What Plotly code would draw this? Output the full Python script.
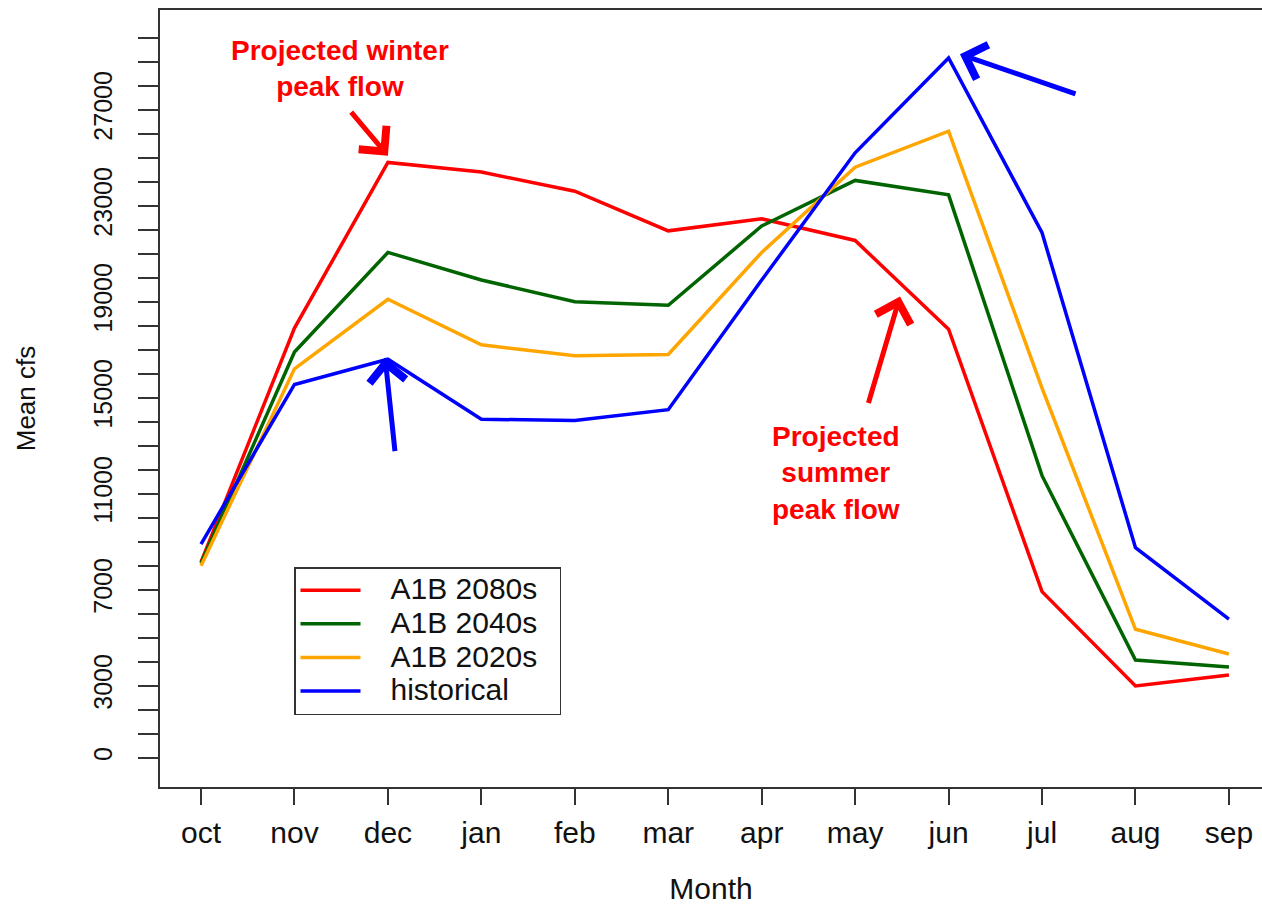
import plotly.graph_objects as go

months = ["oct", "nov", "dec", "jan", "feb", "mar", "apr", "may", "jun", "jul", "aug", "sep"]
month_idx = list(range(1, 13))

a1b_2080s = [8150, 17900, 24800, 24400, 23600, 21950, 22450, 21550, 17850, 6920, 2990, 3450]
a1b_2040s = [8100, 16900, 21050, 19900, 19000, 18850, 22150, 24050, 23450, 11750, 4070, 3780]
a1b_2020s = [8000, 16200, 19100, 17200, 16750, 16800, 21050, 24600, 26100, 15400, 5350, 4320]
historical = [8900, 15550, 16600, 14100, 14050, 14500, 19900, 25200, 29150, 21870, 8750, 5770]

series_names = ["A1B 2080s", "A1B 2040s", "A1B 2020s", "historical"]
series_values = [a1b_2080s, a1b_2040s, a1b_2020s, historical]
series_colors = ["#FF0000", "#006400", "#FFA500", "#0000FF"]

y_tick_vals = list(range(0, 30001, 1000))
y_labelled = [0, 3000, 7000, 11000, 15000, 19000, 23000, 27000]
y_tick_text = [str(v) if v in y_labelled else "" for v in y_tick_vals]

FONT = "Liberation Sans, Arial, Helvetica, sans-serif"
NBSP = "\u00a0"

fig = go.Figure()
for name, vals, col in zip(series_names, series_values, series_colors):
    label = '<span style="font-size:30px">' + NBSP * 3 + name + NBSP * 2 + "</span>"
    fig.add_trace(go.Scatter(x=month_idx, y=vals, mode="lines", name=label,
                             line=dict(color=col, width=3.5)))

fig.update_layout(
    width=1262, height=905,
    margin=dict(l=160, r=0, t=10, b=118),
    paper_bgcolor="white", plot_bgcolor="white",
    font=dict(family=FONT, color="#111111"),
    showlegend=True,
    legend=dict(x=0.1216, y=0.2831, xanchor="left", yanchor="top",
                bordercolor="#333333", borderwidth=1.5, bgcolor="white",
                font=dict(family=FONT, size=23.5, color="#111111"),
                itemwidth=60, traceorder="normal", tracegroupgap=0),
)

fig.update_xaxes(
    range=[0.561, 12.354], tickmode="array", tickvals=month_idx, ticktext=months,
    showline=True, linecolor="#333333", linewidth=1.5, mirror=True,
    ticks="outside", ticklen=16, tickwidth=1.5, tickcolor="#333333",
    tickfont=dict(family=FONT, size=30, color="#111111"),
    ticklabelstandoff=2,
    showgrid=False, zeroline=False,
    title=dict(text="Month", font=dict(family=FONT, size=30, color="#111111"), standoff=32),
)
fig.update_yaxes(
    range=[-1220, 31150], tickmode="array", tickvals=y_tick_vals, ticktext=y_tick_text,
    showline=True, linecolor="#333333", linewidth=1.5, mirror=False,
    ticks="outside", ticklen=20, tickwidth=1.5, tickcolor="#333333",
    tickangle=-90,
    tickfont=dict(family=FONT, size=25, color="#111111"),
    ticklabelstandoff=16,
    showgrid=False, zeroline=False,
    title=dict(text="Mean cfs", font=dict(family=FONT, size=26, color="#111111"), standoff=46),
)

RED = "#FF0000"
BLUE = "#0000FF"
ann_font = dict(family=FONT, size=28, color=RED)

fig.add_annotation(x=2.487, y=28720, xref="x", yref="y", showarrow=False,
                   text="<b>Projected winter<br>peak flow</b>", font=ann_font, align="center")
fig.add_annotation(x=7.795, y=11872, xref="x", yref="y", showarrow=False,
                   text="<b>Projected<br>summer<br>peak flow</b>", font=ann_font, align="center")

arrows = [
    (3.0, 25080, -38, -45, RED),
    (8.48, 19212, -32, 108, RED),
    (2.97, 16668, 10, 95, BLUE),
    (9.122, 29304, 117, 40, BLUE),
]
for hx, hy, ax, ay, col in arrows:
    fig.add_annotation(x=hx, y=hy, xref="x", yref="y", text="", showarrow=True,
                       ax=ax, ay=ay, axref="pixel", ayref="pixel",
                       arrowhead=4, arrowsize=1.4, arrowwidth=5, arrowcolor=col,
                       standoff=0, startstandoff=0)

fig.write_html("out.html")
